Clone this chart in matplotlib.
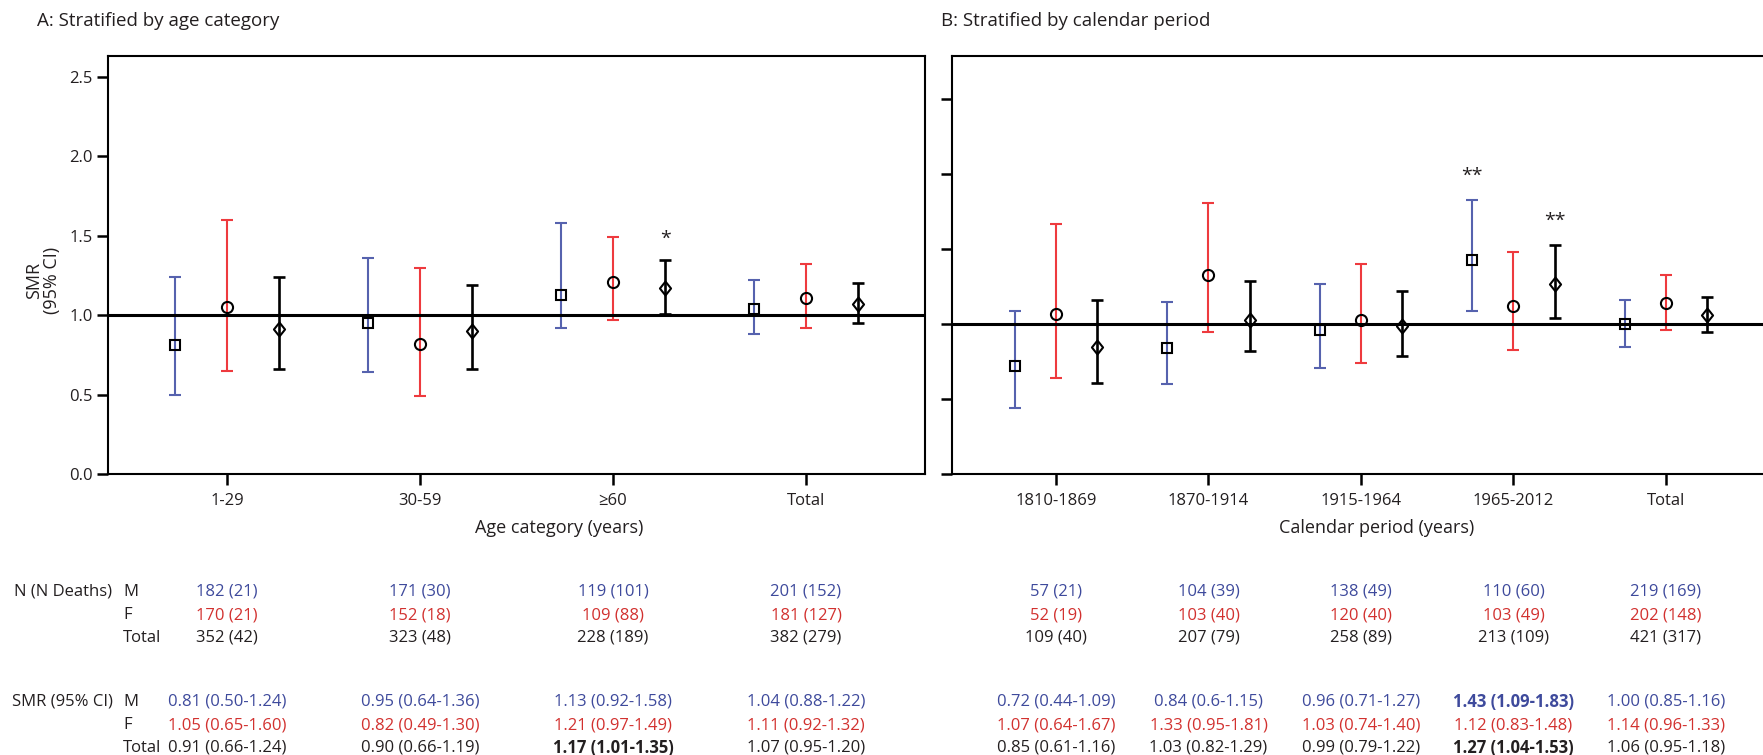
import numpy as np
import matplotlib.pyplot as plt
from matplotlib.transforms import blended_transform_factory

plt.rcParams['font.family'] = ['Open Sans', 'DejaVu Sans']

# ---- data ----
age_cats = ['1-29', '30-59', '≥60', 'Total']
age_m = [0.81, 0.95, 1.13, 1.04]
age_m_lo = [0.50, 0.64, 0.92, 0.88]
age_m_hi = [1.24, 1.36, 1.58, 1.22]
age_f = [1.05, 0.82, 1.21, 1.11]
age_f_lo = [0.65, 0.49, 0.97, 0.92]
age_f_hi = [1.60, 1.30, 1.49, 1.32]
age_t = [0.91, 0.90, 1.17, 1.07]
age_t_lo = [0.66, 0.66, 1.01, 0.95]
age_t_hi = [1.24, 1.19, 1.35, 1.20]
age_n_m = ['182 (21)', '171 (30)', '119 (101)', '201 (152)']
age_n_f = ['170 (21)', '152 (18)', '109 (88)', '181 (127)']
age_n_t = ['352 (42)', '323 (48)', '228 (189)', '382 (279)']
age_smr_m = ['0.81 (0.50-1.24)', '0.95 (0.64-1.36)', '1.13 (0.92-1.58)', '1.04 (0.88-1.22)']
age_smr_f = ['1.05 (0.65-1.60)', '0.82 (0.49-1.30)', '1.21 (0.97-1.49)', '1.11 (0.92-1.32)']
age_smr_t = ['0.91 (0.66-1.24)', '0.90 (0.66-1.19)', '1.17 (1.01-1.35)', '1.07 (0.95-1.20)']
age_bold = [(2, 2)]            # (row, col) bold in SMR table; row 0=M,1=F,2=Total
age_sig = [(2, 2, '*')]        # (series, col, mark)

per_cats = ['1810-1869', '1870-1914', '1915-1964', '1965-2012', 'Total']
per_m = [0.72, 0.84, 0.96, 1.43, 1.00]
per_m_lo = [0.44, 0.60, 0.71, 1.09, 0.85]
per_m_hi = [1.09, 1.15, 1.27, 1.83, 1.16]
per_f = [1.07, 1.33, 1.03, 1.12, 1.14]
per_f_lo = [0.64, 0.95, 0.74, 0.83, 0.96]
per_f_hi = [1.67, 1.81, 1.40, 1.48, 1.33]
per_t = [0.85, 1.03, 0.99, 1.27, 1.06]
per_t_lo = [0.61, 0.82, 0.79, 1.04, 0.95]
per_t_hi = [1.16, 1.29, 1.22, 1.53, 1.18]
per_n_m = ['57 (21)', '104 (39)', '138 (49)', '110 (60)', '219 (169)']
per_n_f = ['52 (19)', '103 (40)', '120 (40)', '103 (49)', '202 (148)']
per_n_t = ['109 (40)', '207 (79)', '258 (89)', '213 (109)', '421 (317)']
per_smr_m = ['0.72 (0.44-1.09)', '0.84 (0.6-1.15)', '0.96 (0.71-1.27)', '1.43 (1.09-1.83)', '1.00 (0.85-1.16)']
per_smr_f = ['1.07 (0.64-1.67)', '1.33 (0.95-1.81)', '1.03 (0.74-1.40)', '1.12 (0.83-1.48)', '1.14 (0.96-1.33)']
per_smr_t = ['0.85 (0.61-1.16)', '1.03 (0.82-1.29)', '0.99 (0.79-1.22)', '1.27 (1.04-1.53)', '1.06 (0.95-1.18)']
per_bold = [(0, 3), (2, 3)]
per_sig = [(0, 3, '**'), (2, 3, '**')]

# ---- style ----
BLUE = '#5662ae'
RED = '#ee3a3e'
TXT_BLUE = '#3e4a9c'
TXT_RED = '#d2312f'
INK = '#231f20'
W, H = 1763, 755
FS = 12

diam = [(0, 1), (0.8, 0), (0, -1), (-0.8, 0), (0, 1)]

fig = plt.figure(figsize=(W / 100, H / 100), dpi=100)


def fig_ax(x0, x1, y0, y1):
    return fig.add_axes([x0 / W, 1 - y1 / H, (x1 - x0) / W, (y1 - y0) / H])


axA = fig_ax(108, 925, 56, 474)
axB = fig_ax(952, 1800, 56, 474)


def panel(ax, cats, series, xlim, ylim, sig, show_ylabels):
    x = np.arange(len(cats))
    offs = [-0.27, 0, 0.27]
    his = []
    for k, (v, lo, hi, col, mk, ms, lw) in enumerate(series):
        v, lo, hi = np.array(v), np.array(lo), np.array(hi)
        xs = x + offs[k]
        ax.errorbar(xs, v, yerr=[v - lo, hi - v], fmt='none', ecolor=col,
                    elinewidth=lw, capsize=4.5, capthick=lw, zorder=2)
        ax.plot(xs, v, ls='none', marker=mk, ms=ms, mfc='none', mec='black',
                mew=1.5, zorder=4)
        his.append((xs, hi))
    ax.axhline(1.0, color='black', lw=2.2, zorder=3)
    for s, c, mark in sig:
        xs, hi = his[s]
        ax.annotate(mark, (xs[c], hi[c]), xytext=(0, 15 if len(mark) == 1 else 17),
                    textcoords='offset points', ha='center', va='center',
                    fontsize=14, color=INK)
    ax.set_xlim(*xlim)
    ax.set_ylim(*ylim)
    ax.set_xticks(x)
    ax.set_xticklabels(cats)
    ax.set_yticks([0, 0.5, 1.0, 1.5, 2.0, 2.5])
    if show_ylabels:
        ax.set_yticklabels(['0.0', '0.5', '1.0', '1.5', '2.0', '2.5'])
    else:
        ax.set_yticklabels([])
    ax.tick_params(direction='out', length=8, width=1.8, labelsize=FS,
                   labelcolor=INK, color='black')
    ax.tick_params(axis='x', pad=6)
    ax.tick_params(axis='y', pad=3)
    for sp in ax.spines.values():
        sp.set_linewidth(1.5)


panel(axA, age_cats,
      [(age_m, age_m_lo, age_m_hi, BLUE, 's', 7.5, 1.5),
       (age_f, age_f_lo, age_f_hi, RED, 'o', 8, 1.5),
       (age_t, age_t_lo, age_t_hi, 'black', diam, 10, 1.9)],
      (-0.617, 3.617), (0, 2.632), age_sig, True)
panel(axB, per_cats,
      [(per_m, per_m_lo, per_m_hi, BLUE, 's', 7.5, 1.5),
       (per_f, per_f_lo, per_f_hi, RED, 'o', 8, 1.5),
       (per_t, per_t_lo, per_t_hi, 'black', diam, 10, 1.9)],
      (-0.682, 4.879), (0, 2.787), per_sig, False)

# titles and axis labels
fig.text(37 / W, 1 - 21 / H, 'A: Stratified by age category', fontsize=13.5,
         color=INK, ha='left', va='center')
fig.text(941 / W, 1 - 21 / H, 'B: Stratified by calendar period', fontsize=13.5,
         color=INK, ha='left', va='center')
fig.text(43 / W, 1 - 280 / H, 'SMR\n(95% CI)', rotation=90, fontsize=13,
         color=INK, ha='center', va='center', multialignment='center',
         linespacing=1.0)
fig.text(559 / W, 1 - 528 / H, 'Age category (years)', fontsize=13,
         color=INK, ha='center', va='center')
fig.text(1377 / W, 1 - 528 / H, 'Calendar period (years)', fontsize=13,
         color=INK, ha='center', va='center')

# table below the panels
n_rows = [592, 615, 638]
smr_rows = [702, 725, 748]
row_cols = [TXT_BLUE, TXT_RED, INK]
for y, lab in zip(n_rows, ['M', 'F', 'Total']):
    fig.text(123 / W, 1 - y / H, lab, fontsize=FS, color=INK, va='center')
for y, lab in zip(smr_rows, ['M', 'F', 'Total']):
    fig.text(123 / W, 1 - y / H, lab, fontsize=FS, color=INK, va='center')
fig.text(14 / W, 1 - n_rows[0] / H, 'N (N Deaths)', fontsize=FS, color=INK, va='center')
fig.text(12 / W, 1 - smr_rows[0] / H, 'SMR (95% CI)', fontsize=FS, color=INK, va='center')


def table(ax, nrows, smrrows, bold):
    tr = blended_transform_factory(ax.transData, fig.transFigure)
    for r, (texts, col) in enumerate(zip(nrows, row_cols)):
        for c, s in enumerate(texts):
            fig.text(c, 1 - n_rows[r] / H, s, transform=tr, fontsize=FS,
                     color=col, ha='center', va='center')
    for r, (texts, col) in enumerate(zip(smrrows, row_cols)):
        for c, s in enumerate(texts):
            fw = 'bold' if (r, c) in bold else 'normal'
            fig.text(c, 1 - smr_rows[r] / H, s, transform=tr, fontsize=FS,
                     color=col, ha='center', va='center', fontweight=fw)


table(axA, [age_n_m, age_n_f, age_n_t], [age_smr_m, age_smr_f, age_smr_t], age_bold)
table(axB, [per_n_m, per_n_f, per_n_t], [per_smr_m, per_smr_f, per_smr_t], per_bold)

fig.savefig('out.png', dpi=100)
